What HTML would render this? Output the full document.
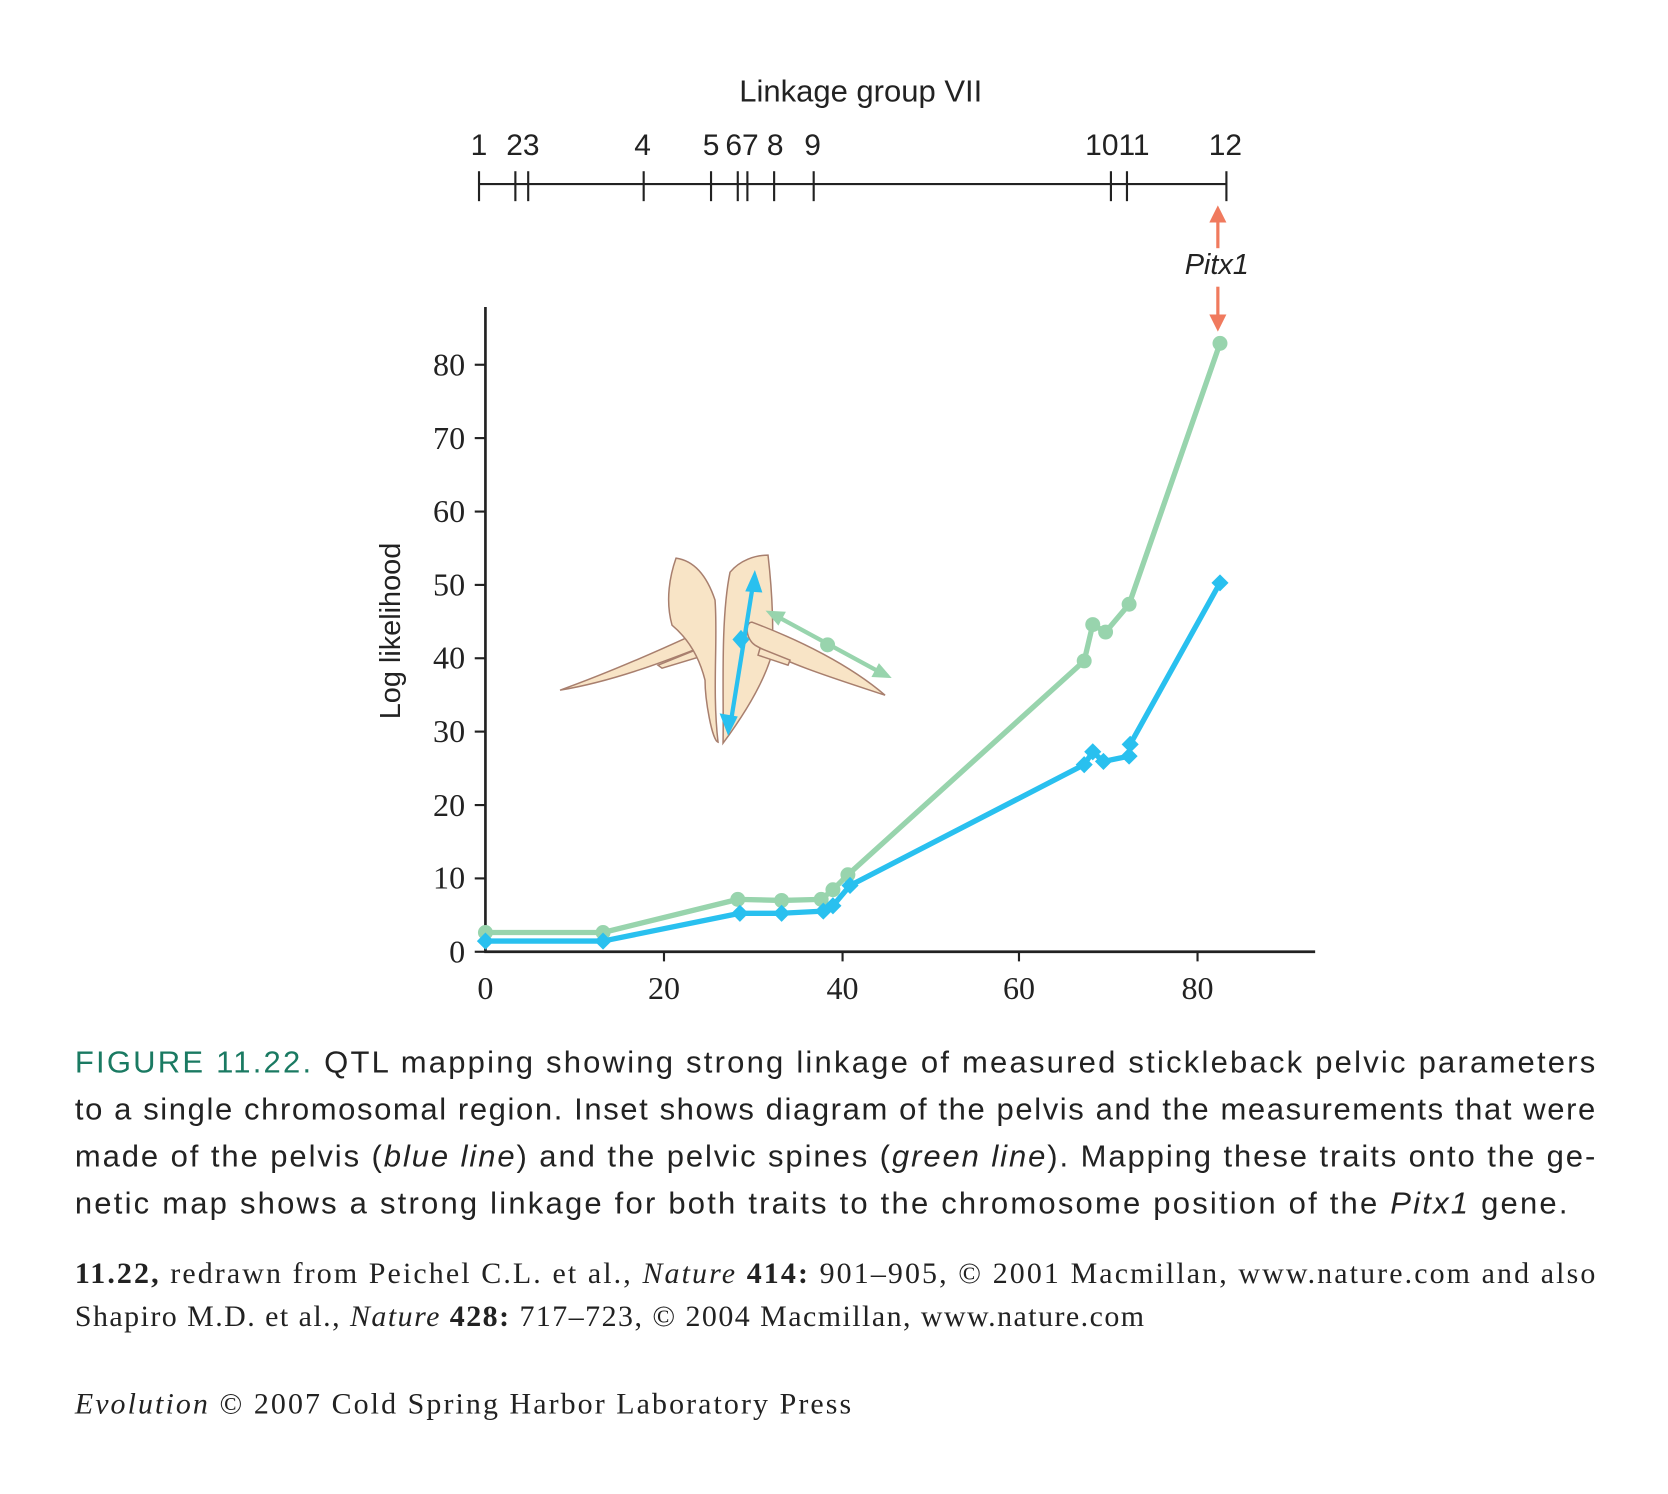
<!DOCTYPE html>
<html><head><meta charset="utf-8"><style>
html,body{margin:0;padding:0;background:#fff;}
svg{display:block;}
.s{font-family:"Liberation Sans",sans-serif;}
.r{font-family:"Liberation Serif",serif;}
</style></head><body>
<svg width="1668" height="1494" viewBox="0 0 1560 1397" xmlns="http://www.w3.org/2000/svg">
<rect width="1560" height="1397" fill="#fff"/>
<text class="s" x="805" y="95" font-size="29" text-anchor="middle" fill="#222">Linkage group VII</text>
<g stroke="#222" stroke-width="2">
<line x1="448" y1="172" x2="1147" y2="172"/>
<line x1="448" y1="160" x2="448" y2="188"/><line x1="482" y1="160" x2="482" y2="188"/><line x1="494" y1="160" x2="494" y2="188"/><line x1="602" y1="160" x2="602" y2="188"/><line x1="665" y1="160" x2="665" y2="188"/><line x1="690" y1="160" x2="690" y2="188"/><line x1="699" y1="160" x2="699" y2="188"/><line x1="724" y1="160" x2="724" y2="188"/><line x1="761" y1="160" x2="761" y2="188"/><line x1="1039" y1="160" x2="1039" y2="188"/><line x1="1054" y1="160" x2="1054" y2="188"/><line x1="1147" y1="160" x2="1147" y2="188"/>
</g>
<g class="s" font-size="28" fill="#222" text-anchor="middle">
<text x="448" y="145">1</text><text x="489" y="145">23</text><text x="601" y="145">4</text><text x="665" y="145">5</text><text x="694" y="145">67</text><text x="725" y="145">8</text><text x="760" y="145">9</text><text x="1045" y="145">1011</text><text x="1146" y="145">12</text>
</g>
<g fill="#f07a5e" stroke="#f07a5e" stroke-width="3">
<line x1="1139" y1="205" x2="1139" y2="232"/><polygon points="1139,192 1131,208 1147,208" stroke="none"/>
<line x1="1139" y1="268" x2="1139" y2="298"/><polygon points="1139,310 1131,294 1147,294" stroke="none"/>
</g>
<text class="s" x="1138" y="256" font-size="27" font-style="italic" text-anchor="middle" fill="#222">Pitx1</text>
<g stroke="#222" stroke-width="2.5">
<line x1="454" y1="287" x2="454" y2="891"/><line x1="453" y1="890" x2="1230" y2="890"/>
</g>
<g stroke="#222" stroke-width="2">
<line x1="444" y1="890" x2="454" y2="890"/><line x1="444" y1="821.4" x2="454" y2="821.4"/><line x1="444" y1="752.8" x2="454" y2="752.8"/><line x1="444" y1="684.1" x2="454" y2="684.1"/><line x1="444" y1="615.5" x2="454" y2="615.5"/><line x1="444" y1="546.9" x2="454" y2="546.9"/><line x1="444" y1="478.3" x2="454" y2="478.3"/><line x1="444" y1="409.6" x2="454" y2="409.6"/><line x1="444" y1="341" x2="454" y2="341"/>
<line x1="621" y1="890" x2="621" y2="899"/><line x1="788" y1="890" x2="788" y2="899"/><line x1="953" y1="890" x2="953" y2="899"/><line x1="1120" y1="890" x2="1120" y2="899"/>
</g>
<g class="r" font-size="30" fill="#222" text-anchor="end">
<text x="435" y="900">0</text><text x="435" y="831">10</text><text x="435" y="763">20</text><text x="435" y="694">30</text><text x="435" y="625">40</text><text x="435" y="557">50</text><text x="435" y="488">60</text><text x="435" y="420">70</text><text x="435" y="351">80</text>
</g>
<g class="r" font-size="30" fill="#222" text-anchor="middle">
<text x="454" y="934">0</text><text x="621" y="934">20</text><text x="788" y="934">40</text><text x="953" y="934">60</text><text x="1120" y="934">80</text>
</g>
<text class="s" font-size="27" fill="#222" text-anchor="middle" transform="translate(374,590) rotate(-90)">Log likelihood</text>
<g transform="scale(0.9353)">
<path d="M560,690 C610,672 660,650 703,630 C715,628 716,642 706,645 C680,655 620,680 560,690Z" fill="#f8e4c6" stroke="#a87f6e" stroke-width="1.5"/>
<path d="M658,665 L700,648 L705,655 L662,668Z" fill="#f8e4c6" stroke="#a87f6e" stroke-width="1.5"/>
<path d="M676,558 C690,560 705,570 715,600 C718,640 712,690 718,742 C712,740 705,700 705,680 C700,660 690,640 672,625 C665,600 670,575 676,558Z" fill="#f8e4c6" stroke="#a87f6e" stroke-width="1.5"/>
<path d="M730,572 C740,560 755,555 768,555 C772,590 775,640 770,660 C760,690 740,720 723,743 C724,700 720,620 730,572Z" fill="#f8e4c6" stroke="#a87f6e" stroke-width="1.5"/>
<path d="M752,622 C800,640 850,665 885,695 C840,680 790,665 755,645 C745,638 745,622 752,622Z" fill="#f8e4c6" stroke="#a87f6e" stroke-width="1.5"/>
<path d="M760,648 L790,660 L788,665 L758,655Z" fill="#f8e4c6" stroke="#a87f6e" stroke-width="1.5"/>
</g>
<g stroke="#29c0ef" stroke-width="4" fill="#29c0ef">
<line x1="684" y1="672" x2="704" y2="548"/>
<polygon points="706,533 697,553 713,554" stroke="none"/>
<polygon points="681,688 673,667 690,670" stroke="none"/>
<polygon points="693,589 701,598 693,607 685,598" stroke="none"/>
</g>
<g stroke="#98d4ad" stroke-width="4" fill="#98d4ad">
<line x1="728" y1="577" x2="820" y2="627"/>
<polygon points="716,571 735,572 728,585" stroke="none"/>
<polygon points="834,634 815,633 822,620" stroke="none"/>
<circle cx="774" cy="603" r="7" stroke="none"/>
</g>
<polyline fill="none" stroke="#98d4ad" stroke-width="5" stroke-linejoin="round" points="454,872 564,872 690,841 731,842 768,841 779,832 793,818 1014,618 1022,584 1034,591 1056,565 1141,321"/>
<g fill="#98d4ad">
<circle cx="454" cy="872" r="7"/><circle cx="564" cy="872" r="7"/><circle cx="690" cy="841" r="7"/><circle cx="731" cy="842" r="7"/><circle cx="768" cy="841" r="7"/><circle cx="779" cy="832" r="7"/><circle cx="793" cy="818" r="7"/><circle cx="1014" cy="618" r="7"/><circle cx="1022" cy="584" r="7"/><circle cx="1034" cy="591" r="7"/><circle cx="1056" cy="565" r="7"/><circle cx="1141" cy="321" r="7"/>
</g>
<polyline fill="none" stroke="#29c0ef" stroke-width="5" stroke-linejoin="round" points="454,880 564,880 692,854 731,854 770,852 779,847 795,828 1014,715 1022,703 1032,712 1056,707 1057,696 1141,545"/>
<g fill="#29c0ef">
<path d="M454,872l8,8l-8,8l-8,-8z"/><path d="M564,872l8,8l-8,8l-8,-8z"/><path d="M692,846l8,8l-8,8l-8,-8z"/><path d="M731,846l8,8l-8,8l-8,-8z"/><path d="M770,844l8,8l-8,8l-8,-8z"/><path d="M779,839l8,8l-8,8l-8,-8z"/><path d="M795,820l8,8l-8,8l-8,-8z"/><path d="M1014,707l8,8l-8,8l-8,-8z"/><path d="M1022,695l8,8l-8,8l-8,-8z"/><path d="M1032,704l8,8l-8,8l-8,-8z"/><path d="M1056,699l8,8l-8,8l-8,-8z"/><path d="M1057,688l8,8l-8,8l-8,-8z"/><path d="M1141,537l8,8l-8,8l-8,-8z"/>
</g>
<g class="s" font-size="29" fill="#222">
<text x="70" y="1003" textLength="1422" lengthAdjust="spacing"><tspan fill="#1a7a62">FIGURE 11.22.</tspan> QTL mapping showing strong linkage of measured stickleback pelvic parameters</text>
<text x="70" y="1047" textLength="1422" lengthAdjust="spacing">to a single chromosomal region. Inset shows diagram of the pelvis and the measurements that were</text>
<text x="70" y="1091" textLength="1422" lengthAdjust="spacing">made of the pelvis (<tspan font-style="italic">blue line</tspan>) and the pelvic spines (<tspan font-style="italic">green line</tspan>). Mapping these traits onto the ge-</text>
<text x="70" y="1135" textLength="1396" lengthAdjust="spacing">netic map shows a strong linkage for both traits to the chromosome position of the <tspan font-style="italic">Pitx1</tspan> gene.</text>
</g>
<g class="r" font-size="28" fill="#222">
<text x="70" y="1200" textLength="1422" lengthAdjust="spacing"><tspan font-weight="bold">11.22,</tspan> redrawn from Peichel C.L. et al., <tspan font-style="italic">Nature</tspan> <tspan font-weight="bold">414:</tspan> 901–905, © 2001 Macmillan, www.nature.com and also</text>
<text x="70" y="1240" textLength="1000" lengthAdjust="spacing">Shapiro M.D. et al., <tspan font-style="italic">Nature</tspan> <tspan font-weight="bold">428:</tspan> 717–723, © 2004 Macmillan, www.nature.com</text>
<text x="70" y="1322" textLength="726" lengthAdjust="spacing"><tspan font-style="italic">Evolution</tspan> © 2007 Cold Spring Harbor Laboratory Press</text>
</g>
</svg>
</body></html>
